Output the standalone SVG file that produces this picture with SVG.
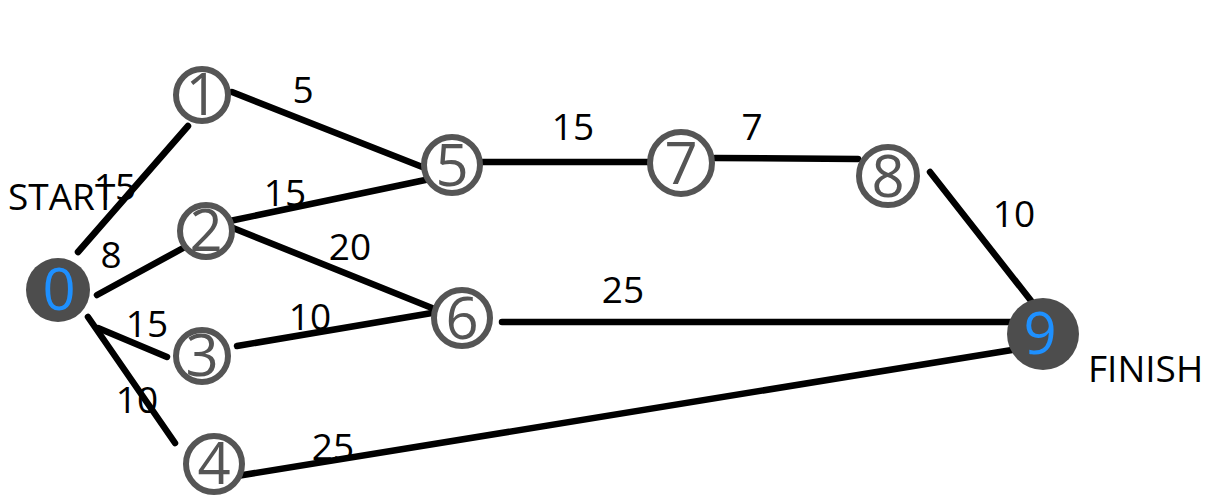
<svg xmlns="http://www.w3.org/2000/svg" width="1219" height="496" viewBox="0 0 1219 496">
<style>
.e{stroke:#000;stroke-width:6.5;stroke-linecap:round;fill:none}
.n{fill:#fff;stroke:#555;stroke-width:6}
.f{fill:#4d4d4d;stroke:none}
.t{font-family:"Open Sans","Noto Sans",sans-serif;font-size:58px;fill:#555;text-anchor:middle}
.b{fill:#1e90ff}
.l{font-family:"Open Sans","Noto Sans",sans-serif;font-size:37px;fill:#000;text-anchor:middle}
.s{text-anchor:start}
</style>
<rect width="1219" height="496" fill="#fff"/>
<g id="connectors">
<line class="e" x1="78" y1="252" x2="188" y2="126"/>
<line class="e" x1="97" y1="295" x2="185" y2="247"/>
<line class="e" x1="88" y1="317" x2="175" y2="443"/>
<line class="e" x1="98" y1="328" x2="167" y2="357"/>
<line class="e" x1="232" y1="92" x2="430" y2="170"/>
<line class="e" x1="225" y1="222" x2="430" y2="179"/>
<line class="e" x1="228" y1="226" x2="432" y2="308"/>
<line class="e" x1="237" y1="346" x2="432" y2="313"/>
<line class="e" x1="237" y1="476" x2="1012" y2="350"/>
<line class="e" x1="483" y1="162" x2="656" y2="162"/>
<line class="e" x1="715" y1="158" x2="858" y2="159"/>
<line class="e" x1="930" y1="172" x2="1032" y2="302"/>
<line class="e" x1="502" y1="322" x2="1015" y2="322"/>
</g>
<g id="node0"><circle class="f" cx="58" cy="290" r="32"/><text class="t b" x="59" y="310">0</text></g>
<g id="node1"><circle class="n" cx="202" cy="95" r="26"/><text class="t" x="202" y="115">1</text></g>
<g id="node2"><circle class="n" cx="206" cy="231" r="26"/><text class="t" x="206" y="251">2</text></g>
<g id="node3"><circle class="n" cx="202" cy="356" r="26"/><text class="t" x="202" y="376">3</text></g>
<g id="node4"><circle class="n" cx="214" cy="464" r="28"/><text class="t" x="214" y="484">4</text></g>
<g id="node5"><circle class="n" cx="452" cy="165" r="28"/><text class="t" x="452" y="186">5</text></g>
<g id="node6"><circle class="n" cx="462" cy="318" r="28"/><text class="t" x="462" y="339">6</text></g>
<g id="node7"><circle class="n" cx="681" cy="163" r="31"/><text class="t" x="681" y="184">7</text></g>
<g id="node8"><circle class="n" cx="888" cy="176" r="29"/><text class="t" x="888" y="197">8</text></g>
<g id="node9"><circle class="f" cx="1043" cy="334" r="36"/><text class="t b" x="1040" y="354">9</text></g>
<g id="labels">
<text class="l s" x="8" y="210">START</text>
<text class="l s" x="1088" y="382">FINISH</text>
<text class="l" x="303" y="103">5</text>
<text class="l" x="573" y="140">15</text>
<text class="l" x="752" y="140">7</text>
<text class="l" x="115" y="200">15</text>
<text class="l" x="285" y="206">15</text>
<text class="l" x="111" y="268">8</text>
<text class="l" x="350" y="260">20</text>
<text class="l" x="147" y="337">15</text>
<text class="l" x="310" y="330">10</text>
<text class="l" x="623" y="303">25</text>
<text class="l" x="137" y="413">10</text>
<text class="l" x="333" y="460">25</text>
<text class="l" x="1014" y="227">10</text>
</g>
</svg>
